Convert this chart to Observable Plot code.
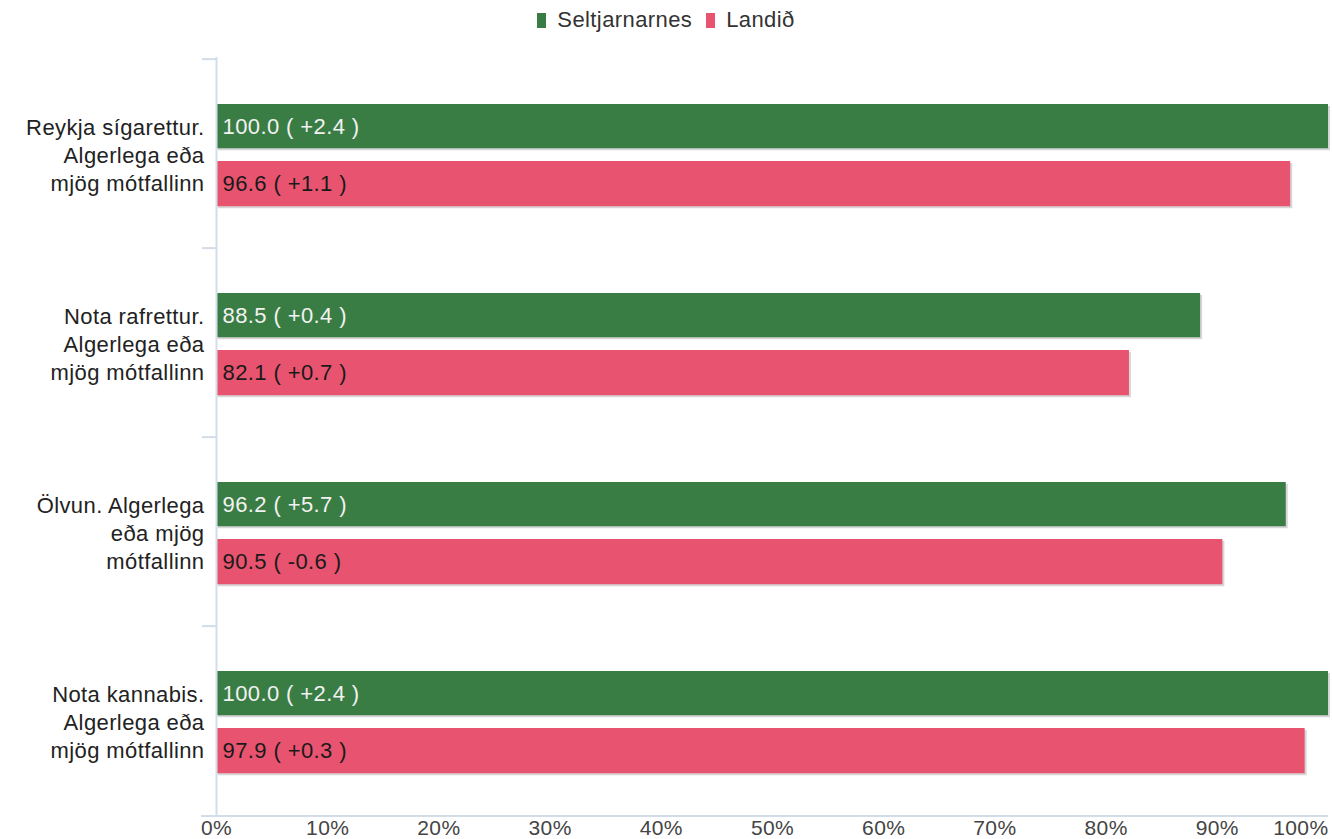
<!DOCTYPE html>
<html>
<head>
<meta charset="utf-8">
<script src="https://cdn.jsdelivr.net/npm/d3@7"></script>
<script src="https://cdn.jsdelivr.net/npm/@observablehq/plot@0.6"></script>
<style>
  html, body { margin: 0; padding: 0; background: #fff; }
  body { width: 1332px; height: 839px; overflow: hidden; font-family: "Liberation Sans", Arial, sans-serif; }
  #legend { height: 40px; display: flex; justify-content: center; align-items: center; font-size: 22px; color: #333; letter-spacing: 0.4px; }
  #legend .item { display: flex; align-items: center; margin: 0 7px; }
  #legend .sw { width: 9px; height: 15px; margin-right: 11px; }
  #chart svg text { letter-spacing: 0.4px; }
</style>
</head>
<body>
<div id="legend"></div>
<div id="chart"></div>
<script>
const categories = [
  "Reykja sígarettur. Algerlega eða mjög mótfallinn",
  "Nota rafrettur. Algerlega eða mjög mótfallinn",
  "Ölvun. Algerlega eða mjög mótfallinn",
  "Nota kannabis. Algerlega eða mjög mótfallinn"
];
const categoryLabels = [
  "Reykja sígarettur.\nAlgerlega eða\nmjög mótfallinn",
  "Nota rafrettur.\nAlgerlega eða\nmjög mótfallinn",
  "Ölvun. Algerlega\neða mjög\nmótfallinn",
  "Nota kannabis.\nAlgerlega eða\nmjög mótfallinn"
];
const seriesNames = ["Seltjarnarnes", "Landið"];
const seriesColors = ["#3a7d44", "#e8546f"];
const seltValues = [100.0, 88.5, 96.2, 100.0];
const seltChange = ["+2.4", "+0.4", "+5.7", "+2.4"];
const landidValues = [96.6, 82.1, 90.5, 97.9];
const landidChange = ["+1.1", "+0.7", "-0.6", "+0.3"];
const xTicks = [0, 10, 20, 30, 40, 50, 60, 70, 80, 90];
const xLastTick = [100];

// Legend
const legend = document.getElementById("legend");
seriesNames.forEach((name, i) => {
  const item = document.createElement("div");
  item.className = "item";
  const sw = document.createElement("span");
  sw.className = "sw";
  sw.style.background = seriesColors[i];
  const t = document.createElement("span");
  t.textContent = name;
  item.appendChild(sw);
  item.appendChild(t);
  legend.appendChild(item);
});

const selt = categories.map((c, i) => ({cat: c, value: seltValues[i], label: `${seltValues[i].toFixed(1)} ( ${seltChange[i]} )`}));
const land = categories.map((c, i) => ({cat: c, value: landidValues[i], label: `${landidValues[i].toFixed(1)} ( ${landidChange[i]} )`}));
const labelOf = new Map(categories.map((c, i) => [c, categoryLabels[i]]));

const width = 1332, height = 799, marginTop = 17, marginBottom = 23, marginLeft = 216, marginRight = 4;
const step = (height - marginTop - marginBottom) / categories.length;
const axisColor = "#d3dde8";
const font = "Liberation Sans, Arial, sans-serif";

// bar layout within each category band (style insets)
const g = {insetTop: 45, insetBottom: step - 90};
const p = {insetTop: 102, insetBottom: step - 148};

const chart = Plot.plot({
  width, height, marginTop, marginBottom, marginLeft, marginRight,
  style: {fontFamily: font, background: "#fff"},
  x: {domain: [0, 100], axis: null, label: null},
  y: {domain: categories, padding: 0, axis: null, label: null},
  marks: [
    // shadows
    Plot.barX(selt, {x: "value", y: "cat", ...g, fill: "#c4c4c4", fillOpacity: 0.7, dx: 2, dy: 2}),
    Plot.barX(land, {x: "value", y: "cat", ...p, fill: "#c4c4c4", fillOpacity: 0.7, dx: 2, dy: 2}),
    // bars
    Plot.barX(selt, {x: "value", y: "cat", ...g, fill: seriesColors[0]}),
    Plot.barX(land, {x: "value", y: "cat", ...p, fill: seriesColors[1]}),
    // value labels
    Plot.text(selt, {y: "cat", text: "label", frameAnchor: "left", textAnchor: "start", dx: 6, dy: -27.4, fontSize: 22, fill: "#f2f2f2"}),
    Plot.text(land, {y: "cat", text: "label", frameAnchor: "left", textAnchor: "start", dx: 6, dy: 30.1, fontSize: 22, fill: "#1a1a1a"}),
    // left axis line
    Plot.ruleX([0], {stroke: axisColor, strokeWidth: 2}),
    // boundary ticks on y axis
    Plot.axisY({anchor: "left", tickSize: 14, text: null, label: null, stroke: axisColor, strokeWidth: 2, dy: -step / 2}),
    // bottom axis line
    Plot.ruleY([categories[categories.length - 1]], {dy: step / 2, insetLeft: -15, stroke: axisColor, strokeWidth: 2}),
    // category labels
    Plot.axisY({anchor: "left", tickSize: 0, tickPadding: 12, label: null, tickFormat: d => labelOf.get(d), fontSize: 22, lineHeight: 1.28, fill: "#222"}),
    // x tick labels
    Plot.axisX(xTicks, {anchor: "bottom", tickSize: 0, tickPadding: 4, label: null, tickFormat: d => d + "%", fontSize: 21, fill: "#444"}),
    Plot.axisX(xLastTick, {anchor: "bottom", tickSize: 0, tickPadding: 4, label: null, tickFormat: d => d + "%", fontSize: 21, fill: "#444", textAnchor: "end"})
  ]
});
document.getElementById("chart").appendChild(chart);
</script>
</body>
</html>
